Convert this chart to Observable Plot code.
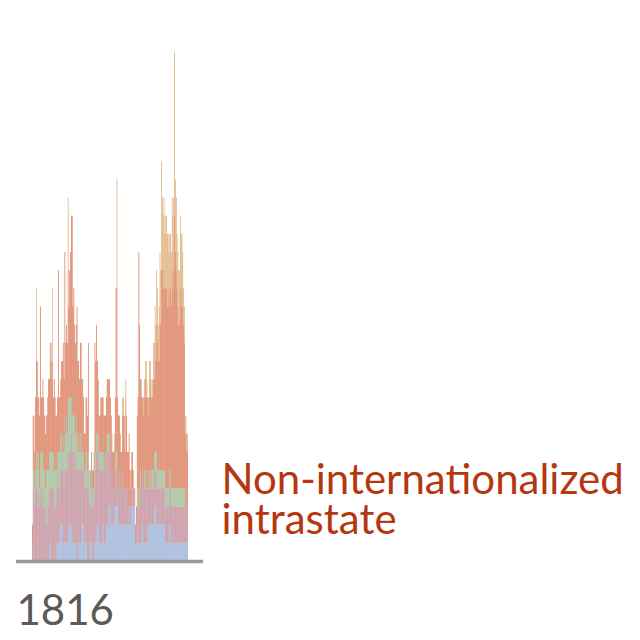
<!DOCTYPE html>
<html><head><meta charset="utf-8">
<script src="https://cdn.jsdelivr.net/npm/d3@7"></script>
<script src="https://cdn.jsdelivr.net/npm/@observablehq/plot@0.6"></script>
<style>body{margin:0;background:#fff}</style>
</head><body><div id="chart"></div>
<script>
const startYear = 1816;
const categories = ["Interstate", "Extrastate", "Internationalized intrastate", "Non-internationalized intrastate", "Non-state"];
const colors = ["#93abd3", "#bd8592", "#96b58c", "#d8714f", "#dca96f"];
const highlighted = "Non-internationalized intrastate";
const highlightLabel = "Non-internationalized\nintrastate";

const interstate = [
0,0,0,0,0,0,0,0,1,0, 0,0,0,0,0,0,0,0,0,0, 0,1,1,0,0,0,0,0,0,0, 1,1,1,1,2,2,2,2,1,1,
1,1,1,1,2,2,2,2,2,1, 1,1,1,1,1,0,0,1,1,1, 1,2,2,2,1,1,1,1,0,0, 0,1,1,1,0,0,1,1,1,2,
2,2,1,1,1,1,2,2,1,1, 1,2,2,2,3,3,3,2,2,2, 2,3,3,3,3,3,2,2,2,2, 2,2,2,2,2,2,2,2,2,3,
2,2,3,3,3,3,3,1,1,1, 1,1,1,1,1,2,2,1,1,1, 1,1,2,2,2,2,2,2,2,2, 3,3,3,2,2,2,2,2,2,2,
2,2,2,2,1,1,1,1,1,2, 2,1,1,1,1,1,1,1,1,1, 1,1,1,1,1,1,1,1,1,1, 1,1];
const extrastate = [
1,4,4,3,4,4,4,3,3,3, 4,3,4,4,3,3,3,2,2,3, 3,3,3,4,4,4,4,3,3,3, 3,3,3,3,3,3,3,3,4,3,
4,4,4,4,4,4,4,4,5,5, 5,5,5,4,5,5,5,4,4,4, 4,4,3,3,3,3,3,4,4,4, 3,2,2,3,3,3,3,4,4,4,
4,4,4,4,4,4,3,4,4,4, 4,4,4,4,3,3,3,3,2,2, 2,2,2,2,2,2,2,2,2,2, 2,2,2,2,2,2,2,2,1,1,
1,1,1,1,1,1,0,0,1,2, 2,2,2,3,3,3,3,3,3,3, 3,3,2,2,2,2,2,2,2,2, 2,2,2,2,2,2,2,2,2,2,
2,2,2,2,2,2,2,2,2,2, 2,2,2,2,2,2,2,2,2,2, 2,2,2,2,2,2,2,2,2,2, 2,2];
const internationalized = [
0,1,2,1,1,2,2,2,2,1, 2,3,2,2,2,2,1,3,3,2, 2,2,2,2,2,2,2,2,2,2, 1,2,2,2,1,2,2,1,2,2,
3,2,3,2,3,3,3,3,2,2, 2,2,2,2,2,2,1,2,1,2, 1,1,1,1,1,1,2,1,1,2, 2,2,1,1,1,1,1,1,1,1,
1,1,1,1,1,1,1,0,1,0, 1,0,1,1,1,1,0,0,0,0, 0,0,1,1,1,0,0,1,0,0, 0,1,0,0,0,0,0,0,0,0,
0,0,0,0,0,0,0,0,0,1, 0,1,1,1,0,0,0,0,1,1, 0,0,1,0,1,1,0,1,1,1, 1,1,1,2,1,1,1,1,1,1,
1,1,1,1,1,1,1,1,1,1, 1,1,1,1,1,1,1,1,1,1, 1,1,1,1,1,1,1,1,0,1, 0,0];
const nonInternationalized = [
1,3,2,2,4,5,5,4,3,4, 8,3,3,4,4,3,3,3,3,4, 5,4,6,5,4,5,3,5,4,3, 3,3,10,3,3,3,4,5,5,4,
9,5,5,5,7,5,7,8,10,11, 6,7,5,5,5,7,5,4,4,5, 6,3,4,3,2,2,3,3,3,6, 0,0,1,1,1,1,1,6,5,6,
4,3,2,2,2,3,3,3,2,3, 2,3,3,3,3,3,3,3,2,2, 2,1,3,9,9,4,4,3,3,2, 2,3,4,4,2,5,4,2,3,3,
2,1,1,2,1,0,1,1,1,4, 6,13,9,5,5,4,4,4,4,5, 5,5,4,4,4,5,5,4,4,5, 4,5,5,7,7,6,6,8,8,11,
11,10,11,10,11,11,10,11,10,10, 10,10,12,11,12,15,13,12,11,10, 9,9,11,10,11,10,9,8,4,3, 3,3];
const nonState = [
0,0,0,0,0,4,0,0,0,0, 0,0,0,0,0,0,0,0,0,0, 0,0,0,0,2,4,0,0,0,0, 0,0,0,0,0,0,0,0,0,0,
0,0,0,0,4,0,0,0,0,0, 0,0,0,0,0,0,0,0,0,0, 0,0,0,0,0,0,0,0,0,0, 0,0,0,0,0,0,0,0,0,0,
0,0,0,0,1,0,0,0,0,0, 0,0,0,0,0,0,0,0,1,0, 0,1,0,0,6,0,0,0,0,0, 0,1,1,0,0,1,0,0,0,0,
0,1,1,0,0,0,0,0,0,0, 0,0,0,0,1,0,0,1,1,1, 2,1,0,1,2,1,1,0,1,2, 2,3,2,3,3,2,3,4,3,6,
4,4,4,3,4,4,4,3,3,3, 3,3,4,4,4,9,4,4,3,3, 3,3,4,4,3,3,2,2,1,1, 1,1];

const series = [interstate, extrastate, internationalized, nonInternationalized, nonState];
const years = interstate.map((_, i) => startYear + i);
const rows = [];
series.forEach((vals, k) => vals.forEach((v, i) => rows.push({year: years[i], type: categories[k], value: v})));

const chart = Plot.plot({
  width: 640,
  height: 640,
  marginLeft: 16,
  marginRight: 437,
  marginTop: 52,
  marginBottom: 79,
  x: {type: "band", domain: years, paddingInner: 0.15, paddingOuter: 0, insetLeft: 16, insetRight: 15, axis: null},
  y: {domain: [0, 28], axis: null},
  color: {domain: categories, range: colors},
  style: {fontFamily: "Lato, sans-serif", background: "#fff"},
  marks: [
    Plot.barY(rows, {x: "year", y: "value", fill: "type", order: categories, inset: 0}),
    Plot.ruleY([0], {stroke: "#999", strokeWidth: 3.5}),
    Plot.text([String(startYear)], {frameAnchor: "bottom-left", text: d => d, textAnchor: "start", lineAnchor: "bottom", fontSize: 42, fill: "#5a5a5a", dy: 63, dx: 0}),
    Plot.text([highlightLabel], {frameAnchor: "bottom-right", text: d => d, textAnchor: "start", lineAnchor: "bottom", fontSize: 42, lineHeight: 0.95, fill: "#b5370f", dx: 18, dy: -28})
  ]
});
document.getElementById("chart").appendChild(chart);
</script>
</body></html>
